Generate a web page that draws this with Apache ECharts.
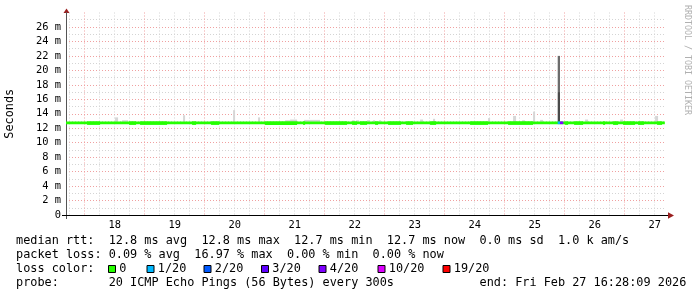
<!DOCTYPE html>
<html><head><meta charset="utf-8">
<script src="https://cdn.jsdelivr.net/npm/echarts@6/dist/echarts.min.js"></script>
<style>html,body{margin:0;padding:0;background:#fff}#c{width:697px;height:297px}</style>
</head><body><div id="c"></div><script>
// x values: hours since 2026-02-17 00:00 (local)
const startHour = 16.469;          // Feb 17 16:28:09
const endHour = 256.469;           // Feb 27 16:28:09
const medianEndHour = 256.0;
const yMaxMs = 28;
const yLabelValues = [0,2,4,6,8,10,12,14,16,18,20,22,24,26];
const yLabelTexts = ['0','2 m','4 m','6 m','8 m','10 m','12 m','14 m','16 m','18 m','20 m','22 m','24 m','26 m'];
const dayNoonHours = [36,60,84,108,132,156,180,204,228,252];
const dayLabels = ['18','19','20','21','22','23','24','25','26','27'];

// median RTT (ms)
const medianHigh = 12.8;
const medianLow = 12.7;
const dipLow = 12.6;
const dipStart = [24.9,41.7,46.1,66.9,74.5,96.1,111.3,120.1,130.9,134.1,140.1,145.3,152.5,162.1,178.1,193.3,216.1,219.7,231.3,235.3,239.3,245.3,252.9];
const dipEnd   = [30.1,44.5,56.9,68.5,77.7,108.9,112.1,128.9,132.9,136.9,141.3,150.5,155.3,164.5,185.3,203.3,217.3,223.3,232.1,237.3,244.1,247.7,254.9];

// smoke (ping spread) above the median (ms)
const smokeStart = [36.1,38.9,63.3,83.3,93.3,104.1,106.1,111.7,130.9,132.5,136.9,139.3,141.7,158.1,163.3,185.3,195.3,198.9,203.3,206.1,224.1,238.1,252.1];
const smokeEnd   = [37.3,41.3,64.1,84.1,94.1,106.1,108.9,118.1,131.7,133.7,138.1,140.1,142.5,159.3,164.1,186.1,196.5,200.1,204.1,207.3,225.3,239.3,253.3];
const smokeTop   = [13.5,13.1,13.8,14.5,13.5,13.1,13.2,13.15,13.1,13.1,13.1,13.1,13.1,13.2,13.3,13.4,13.7,13.1,14.3,13.15,13.2,13.2,13.7];

// spike on Feb 25 evening
const spikeStart = 213.15, spikeEnd = 214.07;
const spikeLayerLow  = [12.8, 17.0];
const spikeLayerHigh = [17.0, 22.0];

// packet loss events (pings lost out of 20)
const lossStart = [213.15, 214.07];
const lossEnd   = [214.07, 215.39];
const lossPings = [1, 4];

// loss color legend
const lossLegendLevels = [0,1,2,3,4,10,19];
const lossLegendLabels = ['0','1/20','2/20','3/20','4/20','10/20','19/20'];
const lossLegendColors = ['#26ff00','#00b8ff','#0059ff','#5e00ff','#7e00ff','#dd00ff','#ff0000'];

const legendRow1 = 'median rtt:  12.8 ms avg  12.8 ms max  12.7 ms min  12.7 ms now  0.0 ms sd  1.0 k am/s';
const legendRow2 = 'packet loss: 0.09 % avg  16.97 % max  0.00 % min  0.00 % now';
const legendRow3 = 'loss color:';
const legendRow4 = 'probe:       20 ICMP Echo Pings (56 Bytes) every 300s';
const legendEnd = 'end: Fri Feb 27 16:28:09 2026';

function lossColor(p){
  let c = lossLegendColors[0];
  for (let i=0;i<lossLegendLevels.length;i++) if (p >= lossLegendLevels[i]) c = lossLegendColors[i];
  return c;
}

const gridHours = [];
for (let h = 18; h <= 252; h += 6) gridHours.push(h);

const MONO = 'DejaVu Sans Mono';
const legendFont = '11.85px "DejaVu Sans Mono"';

function rectItem(pad, colorFn){
  return function(params, api){
    const p0 = api.coord([api.value(0), api.value(3)]);
    const p1 = api.coord([api.value(1), api.value(2)]);
    return {type:'rect', silent:true,
      shape:{x:p0[0], y:p0[1]-pad, width:p1[0]-p0[0], height:(p1[1]-p0[1])+2*pad},
      style:{fill: colorFn(api.value(4))}};
  };
}

const medianData = [[startHour, medianEndHour, medianLow, medianHigh, 0]];
dipStart.forEach((s,i)=>medianData.push([s, dipEnd[i], dipLow, medianHigh, 0]));
lossStart.forEach((s,i)=>medianData.push([s, lossEnd[i], medianLow, medianHigh, lossPings[i]]));

const smokeData = smokeStart.map((s,i)=>[s, smokeEnd[i], medianHigh, smokeTop[i], 0]);
const spikeColors = ['#4a4a4a', '#6c6c6c'];
const spikeData = spikeLayerLow.map((lo,i)=>[spikeStart, spikeEnd, lo, spikeLayerHigh[i], i]);

const chart = echarts.init(document.getElementById('c'), null, {renderer:'canvas'});

const legendGraphics = [];
function txt(x, y, s, extra){
  legendGraphics.push(Object.assign({type:'text', x:x, y:y, silent:true,
    style:{text:s, font:legendFont, fill:'#000', align:'left', verticalAlign:'middle', textAlign:'left', textVerticalAlign:'middle'}}, extra||{}));
}
txt(16, 241, legendRow1);
txt(16, 255, legendRow2);
txt(16, 269, legendRow3);
txt(16, 283, legendRow4);
txt(479.5, 283, legendEnd);
const boxX = [108, 146.5, 203.5, 261, 318.5, 377.5, 442.5];
lossLegendLabels.forEach((lab,i)=>{
  legendGraphics.push({type:'rect', silent:true, shape:{x:boxX[i]+0.5, y:265.5, width:7, height:7},
    style:{fill:lossLegendColors[i], stroke:'#000', lineWidth:1}});
  txt(boxX[i]+11.3, 269, lab);
});

chart.setOption({
  animation:false,
  backgroundColor:'#fff',
  grid:{left:66, right:31, top:12.5, bottom:82, containLabel:false, outerBoundsMode:'none'},
  xAxis:{type:'value', min:startHour, max:endHour,
    axisLine:{show:true, lineStyle:{color:'#000', width:1}},
    axisTick:{show:false}, splitLine:{show:false},
    axisLabel:{customValues:dayNoonHours, margin:5, color:'#000', fontFamily:MONO, fontSize:10.4,
      formatter:v=>{const i=dayNoonHours.indexOf(v); return i<0?'':dayLabels[i];}}},
  yAxis:{type:'value', min:0, max:yMaxMs, interval:1,
    name:'Seconds', nameLocation:'middle', nameGap:50, nameRotate:90,
    nameTextStyle:{fontFamily:MONO, fontSize:11.85, color:'#000'},
    axisLine:{show:true, lineStyle:{color:'#555', width:1}},
    axisTick:{show:false},
    splitLine:{show:true, showMaxLine:false, lineStyle:{color:['#f0a0a0','#d4d4d4'], type:[1,2], width:1}},
    axisLabel:{customValues:yLabelValues, margin:5, color:'#000', fontFamily:MONO, fontSize:10.4,
      formatter:v=>{const i=yLabelValues.indexOf(v); return i<0?'':yLabelTexts[i];}}},
  series:[
    {type:'custom', z:1, silent:true, data:gridHours.map(h=>[h]),
      renderItem:function(params, api){
        const h = api.value(0);
        const pb = api.coord([h, 0]);
        const pt = api.coord([h, yMaxMs]);
        const x = Math.floor(pb[0]) + 0.5;
        const major = (h % 24) === 0;
        return {type:'line', silent:true, shape:{x1:x, y1:pt[1], x2:x, y2:pb[1]},
          style:{stroke: major ? '#f0a0a0' : '#d4d4d4', lineWidth:1, lineDash:[1,2]}};
      }},
    {type:'custom', z:2, silent:true, data:smokeData, renderItem:rectItem(0, ()=>'#d6d6d6')},
    {type:'custom', z:3, silent:true, data:spikeData, renderItem:rectItem(0, i=>spikeColors[i])},
    {type:'custom', z:4, silent:true, data:medianData, renderItem:rectItem(1, p=>lossColor(p))}
  ],
  graphic:[
    {type:'line', silent:true, shape:{x1:62, y1:215.5, x2:668, y2:215.5}, style:{stroke:'#000', lineWidth:1}},
    {type:'line', silent:true, shape:{x1:66.5, y1:213, x2:66.5, y2:219}, style:{stroke:'#555', lineWidth:1}},
    {type:'polygon', silent:true, shape:{points:[[63.5,13],[69.5,13],[66.5,8.5]]}, style:{fill:'#9a1f1f'}},
    {type:'polygon', silent:true, shape:{points:[[668,212.3],[668,218.7],[674,215.5]]}, style:{fill:'#9a1f1f'}},
    {type:'text', silent:true, x:687, y:60, rotation:-Math.PI/2,
      style:{text:'RRDTOOL / TOBI OETIKER', font:'8.3px "DejaVu Sans Mono"', fill:'#b0b0b0',
        align:'center', verticalAlign:'middle', textAlign:'center', textVerticalAlign:'middle'}}
  ].concat(legendGraphics)
});
</script></body></html>
